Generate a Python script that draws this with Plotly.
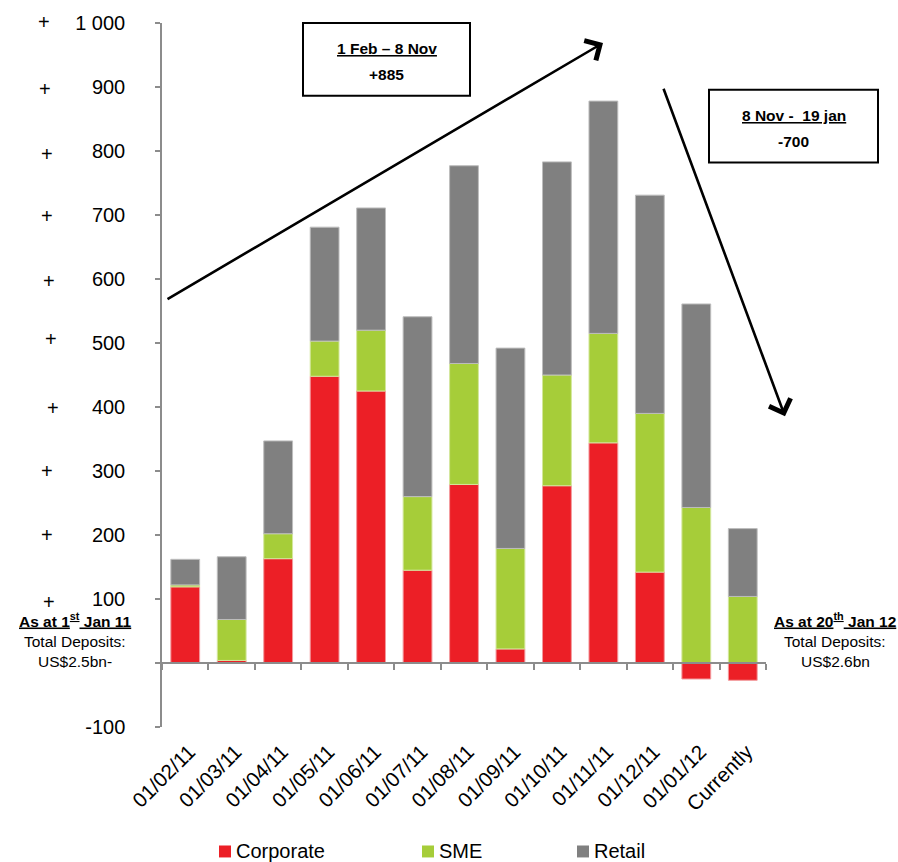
import plotly.graph_objects as go

# Monthly change in deposits by segment (US$ m)
categories = ["01/02/11", "01/03/11", "01/04/11", "01/05/11", "01/06/11", "01/07/11",
              "01/08/11", "01/09/11", "01/10/11", "01/11/11", "01/12/11", "01/01/12",
              "Currently"]
corporate = [119, 4, 163, 448, 425, 145, 279, 22, 277, 344, 142, -25, -27]
sme = [3, 64, 39, 55, 95, 115, 189, 157, 173, 171, 248, 243, 104]
retail = [40, 98, 145, 178, 191, 281, 309, 313, 333, 363, 341, 318, 106]

y_tick_vals = [-100, 0, 100, 200, 300, 400, 500, 600, 700, 800, 900, 1000]
y_tick_text = ["-100", "", "100", "200", "300", "400", "500", "600", "700", "800", "900", "1 000"]
plus_ticks = [100, 200, 300, 400, 500, 600, 700, 800, 900, 1000]

colors = {"Corporate": "#EC1F26", "SME": "#A6CD39", "Retail": "#808080"}
edges = {"Corporate": "#F39A9D", "SME": "#D3E79C", "Retail": "#BDBDBD"}

FONT = "Liberation Sans, Arial, sans-serif"
W, H = 898, 862
M_L, M_R, M_T, M_B = 162, 132, 20, 135
PW, PH = W - M_L - M_R, H - M_T - M_B


def px_x(px):
    return (px - M_L) / PW


def px_y(py):
    return (H - M_B - py) / PH


fig = go.Figure()
for name, vals in (("Corporate", corporate), ("SME", sme), ("Retail", retail)):
    fig.add_trace(go.Bar(
        x=categories, y=vals, name=name,
        marker=dict(color=colors[name], line=dict(color=edges[name], width=1)),
        showlegend=False,
    ))

y_min, y_max = -100, 1000

fig.update_layout(
    width=W, height=H,
    margin=dict(l=M_L, r=M_R, t=M_T, b=M_B),
    barmode="relative", bargap=0.38,
    plot_bgcolor="white", paper_bgcolor="white",
    font=dict(family=FONT, color="black", size=20),
    xaxis=dict(
        type="category", range=[-0.5, len(categories) - 0.5],
        anchor="free", position=(0 - y_min) / (y_max - y_min),
        showline=True, linecolor="#8C8C8C", linewidth=1.5,
        ticks="outside", tickson="boundaries", ticklen=6, tickcolor="#8C8C8C", tickwidth=1.5,
        tickangle=-45, ticklabelstandoff=68, ticklabelshift=4,
        tickfont=dict(size=20.5, family=FONT, color="black"),
        showgrid=False, zeroline=False,
    ),
    yaxis=dict(
        range=[y_min, y_max],
        tickvals=y_tick_vals, ticktext=y_tick_text,
        showline=True, linecolor="#8C8C8C", linewidth=1.5,
        ticks="outside", ticklen=5, tickcolor="#8C8C8C", tickwidth=1.5,
        ticklabelstandoff=26,
        tickfont=dict(size=20, family=FONT, color="black"),
        showgrid=False, zeroline=False,
    ),
)

ann = []
shapes = []

# "+" markers beside the positive tick labels
plus_px = [49, 47, 47, 53, 51, 49, 47, 47, 45.5, 44]
plus_shift = [-3, 0, 0, -1, 4, -2, -1, -3, -2, 1]
for v, xp, ys in zip(plus_ticks, plus_px, plus_shift):
    ann.append(dict(text="+", xref="paper", yref="y", x=px_x(xp), y=v, yshift=ys,
                    showarrow=False, xanchor="center", yanchor="middle",
                    font=dict(size=20, family=FONT, color="black")))

# Trend arrows
ann.append(dict(text="", xref="paper", yref="paper", x=px_x(603), y=px_y(40),
                ax=166 - 603, ay=297 - 40, showarrow=True, arrowhead=4,
                arrowsize=1.7, arrowwidth=2.6, arrowcolor="black"))
ann.append(dict(text="", xref="paper", yref="paper", x=px_x(785), y=px_y(415),
                ax=663 - 785, ay=86 - 415, showarrow=True, arrowhead=4,
                arrowsize=1.7, arrowwidth=2.6, arrowcolor="black"))

# Period boxes
for (x0, y0, x1, y1), head, val in (
    ((303, 20, 470, 93), "1 Feb \u2013 8 Nov", "+885"),
    ((709, 87, 878, 160), "8 Nov -\u00a0 19 jan", "-700"),
):
    shapes.append(dict(type="rect", xref="paper", yref="paper",
                       x0=px_x(x0), x1=px_x(x1), y0=px_y(y1), y1=px_y(y0),
                       line=dict(color="black", width=2), fillcolor="white", layer="above"))
    cx = (x0 + x1) / 2
    ann.append(dict(text="<b><u>%s</u></b>" % head, xref="paper", yref="paper",
                    x=px_x(cx), y=px_y(y0 + 26), showarrow=False,
                    xanchor="center", yanchor="middle",
                    font=dict(size=15.5, family=FONT, color="black")))
    ann.append(dict(text="<b>%s</b>" % val, xref="paper", yref="paper",
                    x=px_x(cx), y=px_y(y0 + 52), showarrow=False,
                    xanchor="center", yanchor="middle",
                    font=dict(size=15.5, family=FONT, color="black")))

# Opening / closing totals
for cx, lines in (
    (75, ["<b><u>As at 1<sup>st</sup> Jan 11</u></b>", "Total Deposits:", "US$2.5bn-"]),
    (835, ["<b><u>As at 20<sup>th</sup> Jan 12</u></b>", "Total Deposits:", "US$2.6bn"]),
):
    for txt, py in zip(lines, (620, 641, 661)):
        ann.append(dict(text=txt, xref="paper", yref="paper", x=px_x(cx), y=px_y(py),
                        showarrow=False, xanchor="center", yanchor="middle",
                        font=dict(size=15.5, family=FONT, color="black")))

# Legend row
for name, sx in (("Corporate", 219), ("SME", 422), ("Retail", 577)):
    shapes.append(dict(type="rect", xref="paper", yref="paper",
                       x0=px_x(sx), x1=px_x(sx + 12), y0=px_y(858), y1=px_y(846),
                       line=dict(width=0), fillcolor=colors[name]))
    ann.append(dict(text=name, xref="paper", yref="paper", x=px_x(sx + 15), y=px_y(852),
                    showarrow=False, xanchor="left", yanchor="middle",
                    font=dict(size=20, family=FONT, color="black")))

fig.update_layout(annotations=ann, shapes=shapes)
fig.write_html("out.html")
